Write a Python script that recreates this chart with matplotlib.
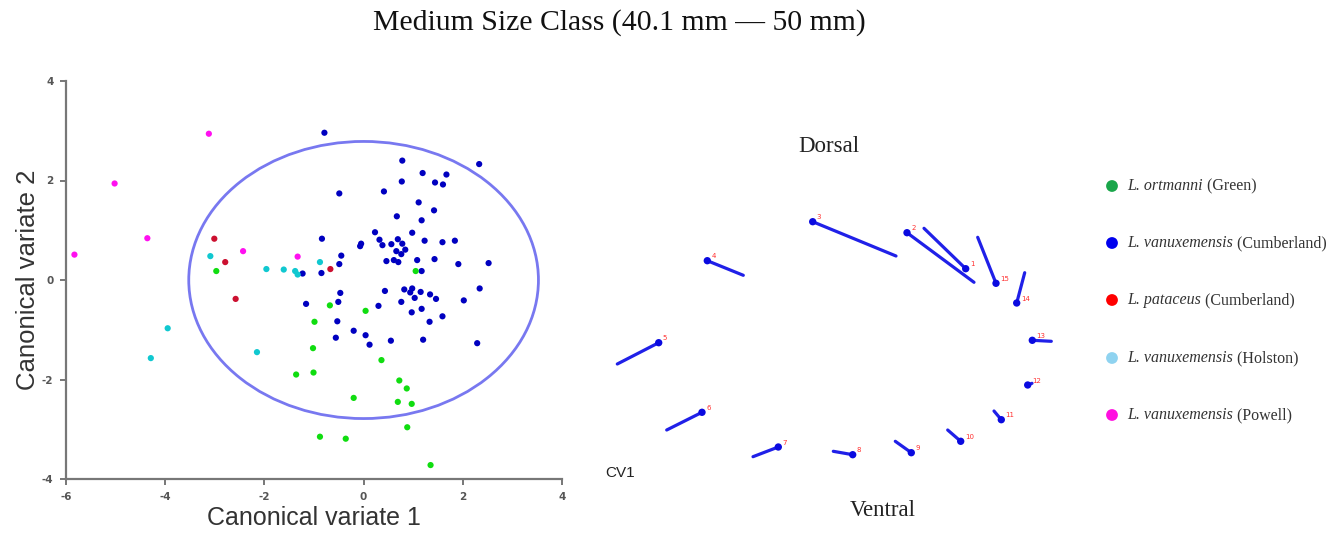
import matplotlib
matplotlib.use("Agg")
import matplotlib.pyplot as plt
from matplotlib.patches import Ellipse

W, H, DPI = 1343, 544, 100

# ---------------- scatter data (canonical variates) ----------------
green_x = [-2.97, 1.05, -0.68, 0.04, -0.99, -1.02, 0.36, -1.01, -1.36, 0.72, 0.87,
           -0.20, 0.69, 0.97, 0.88, -0.88, -0.36, 1.35]
green_y = [0.18, 0.18, -0.51, -0.62, -0.84, -1.37, -1.61, -1.86, -1.90, -2.02, -2.18,
           -2.37, -2.45, -2.49, -2.96, -3.15, -3.19, -3.72]

red_x = [-3.01, -2.79, -2.58, -0.67]
red_y = [0.83, 0.36, -0.38, 0.22]

cyan_x = [-3.09, -1.96, -1.61, -1.38, -1.33, -0.88, -3.95, -4.29, -2.15]
cyan_y = [0.48, 0.22, 0.21, 0.18, 0.11, 0.36, -0.97, -1.57, -1.45]

magenta_x = [-3.12, -5.02, -4.36, -5.83, -2.43, -1.33]
magenta_y = [2.94, 1.94, 0.84, 0.51, 0.58, 0.47]

blue_x = [-0.79, 2.33, 0.78, 1.19, 1.67, 1.44, 1.60, 0.77, -0.49, 0.41, 1.11, 1.42,
          0.67, 1.17, 0.23, 0.98, -0.84, 0.32, 0.69, 1.23, 1.59, 1.84, -0.05, -0.07,
          0.38, 0.56, 0.78, 0.66, 0.76, 0.84, -0.45, -0.49, 0.46, 0.61, 0.70, 1.08,
          1.43, 1.91, 2.52, 1.17, -0.85, -1.23, -0.47, -0.51, -1.16, 0.43, 0.82, 0.98,
          0.94, 1.03, 1.15, 1.34, 1.46, 2.02, 2.34, 0.76, 0.30, 0.97, 1.17, 1.59, 1.33,
          -0.53, -0.20, 0.04, -0.56, 0.12, 0.55, 1.20, 2.29]
blue_y = [2.96, 2.33, 2.40, 2.15, 2.12, 1.96, 1.92, 1.98, 1.74, 1.78, 1.56, 1.40,
          1.28, 1.20, 0.96, 0.95, 0.83, 0.81, 0.82, 0.79, 0.76, 0.79, 0.73, 0.68,
          0.70, 0.72, 0.73, 0.58, 0.52, 0.61, 0.49, 0.32, 0.38, 0.40, 0.36, 0.40,
          0.42, 0.32, 0.34, 0.18, 0.14, 0.13, -0.26, -0.44, -0.48, -0.22, -0.19, -0.17,
          -0.25, -0.36, -0.24, -0.29, -0.38, -0.41, -0.17, -0.44, -0.52, -0.65, -0.58,
          -0.73, -0.84, -0.83, -1.02, -1.11, -1.16, -1.30, -1.22, -1.20, -1.27]

ellipse_center = (0.0, 0.0)
ellipse_width = 7.05
ellipse_height = 5.57

x_ticks = [-6, -4, -2, 0, 2, 4]
y_ticks = [-4, -2, 0, 2, 4]

# ---------------- landmark displacement data (image units) ----------------
lm_id = ["1", "2", "3", "4", "5", "6", "7", "8", "9", "10", "11", "12", "13", "14", "15"]
lm_x = [965.7, 907.0, 812.7, 707.3, 658.7, 702.0, 778.3, 852.7, 911.3, 960.7, 1001.3,
        1027.7, 1032.3, 1016.7, 996.0]
lm_y = [268.7, 232.7, 221.7, 260.7, 342.7, 412.3, 447.0, 454.7, 452.7, 441.3, 419.7,
        385.0, 340.3, 303.0, 283.3]
tip_x = [924.0, 974.0, 896.0, 743.3, 617.3, 666.7, 753.0, 833.3, 895.3, 947.7, 994.0,
         1032.0, 1051.3, 1024.7, 977.7]
tip_y = [228.3, 282.3, 256.0, 275.3, 364.0, 430.0, 456.7, 451.3, 441.3, 430.0, 411.0,
         383.3, 341.3, 272.7, 237.3]

legend_species = ["L. ortmanni", "L. vanuxemensis", "L. pataceus",
                  "L. vanuxemensis", "L. vanuxemensis"]
legend_place = ["(Green)", "(Cumberland)", "(Cumberland)", "(Holston)", "(Powell)"]
legend_colors = ["#1aa64a", "#0000ee", "#ff0000", "#8fd3f0", "#ff10e0"]

# ---------------- figure ----------------
fig = plt.figure(figsize=(W / DPI, H / DPI), dpi=DPI)
fig.patch.set_facecolor("white")

fig.text(619 / W, 1 - 23 / H, "Medium Size Class (40.1 mm \u2014 50 mm)",
         ha="center", va="center", fontsize=21.4, family="Liberation Serif", color="#111111")

# left scatter axes
ax = fig.add_axes([66 / W, 1 - 479 / H, (562 - 66) / W, (479 - 81) / H])
ax.set_xlim(-6, 4)
ax.set_ylim(-4, 4)
ms = 20
ax.scatter(blue_x, blue_y, s=ms, color="#0000c0", edgecolors="none", zorder=3)
ax.scatter(green_x, green_y, s=ms, color="#10dd10", edgecolors="none", zorder=3)
ax.scatter(red_x, red_y, s=ms, color="#cc1030", edgecolors="none", zorder=3)
ax.scatter(cyan_x, cyan_y, s=ms, color="#10c8d0", edgecolors="none", zorder=3)
ax.scatter(magenta_x, magenta_y, s=ms, color="#ff10f0", edgecolors="none", zorder=3)
ax.add_patch(Ellipse(ellipse_center, ellipse_width, ellipse_height, fill=False,
                     edgecolor="#7878f0", linewidth=2.0, zorder=2))

for s in ["top", "right"]:
    ax.spines[s].set_visible(False)
for s in ["left", "bottom"]:
    ax.spines[s].set_color("#777777")
    ax.spines[s].set_linewidth(1.6)
ax.set_xticks(x_ticks)
ax.set_yticks(y_ticks)
ax.set_xticklabels([str(t) for t in x_ticks])
ax.set_yticklabels([str(t) for t in y_ticks])
ax.tick_params(direction="out", length=4, width=1.4, color="#777777",
               labelsize=7.5, labelcolor="#555555", pad=5)
for lab in ax.get_xticklabels() + ax.get_yticklabels():
    lab.set_fontweight("bold")
ax.set_xlabel("Canonical variate 1", fontsize=18, family="Liberation Sans",
              color="#333333", labelpad=3)
ax.set_ylabel("Canonical variate 2", fontsize=18.5, family="Liberation Sans",
              color="#333333", labelpad=1)

# right landmark panel (overlay axes in image units)
ax2 = fig.add_axes([0, 0, 1, 1])
ax2.set_xlim(0, W)
ax2.set_ylim(H, 0)
ax2.axis("off")
ax2.patch.set_alpha(0)
for i in range(len(lm_x)):
    ax2.plot([lm_x[i], tip_x[i]], [lm_y[i], tip_y[i]], color="#2020e8",
             linewidth=2.3, solid_capstyle="round", zorder=2)
ax2.scatter(lm_x, lm_y, s=28, color="#0a0ae0", edgecolors="none", zorder=3)
for i in range(len(lm_x)):
    ax2.annotate(lm_id[i], (lm_x[i], lm_y[i]), xytext=(3, 1), textcoords="offset points",
                 fontsize=5, color="#ff3030", ha="left", va="bottom")

ax2.text(829, 147, "Dorsal", ha="center", va="center", fontsize=16.5,
         family="Liberation Serif", color="#222222")
ax2.text(883, 510, "Ventral", ha="center", va="center", fontsize=16.5,
         family="Liberation Serif", color="#222222")
ax2.text(620, 473, "CV1", ha="center", va="center", fontsize=11,
         family="Liberation Sans", color="#222222")

# legend
leg_y = [186, 243, 300, 358, 415]
for i in range(len(legend_species)):
    ax2.scatter([1112], [leg_y[i]], s=72, color=legend_colors[i], edgecolors="none")
    t = ax2.text(1127, leg_y[i], legend_species[i], ha="left", va="center", fontsize=11.5,
                 family="Liberation Serif", style="italic", color="#333333")
    ax2.annotate(" " + legend_place[i], xy=(1, 0.5), xycoords=t, ha="left", va="center",
                 fontsize=11.5, family="Liberation Serif", color="#333333")

fig.savefig("out.png", dpi=DPI, facecolor="white")
